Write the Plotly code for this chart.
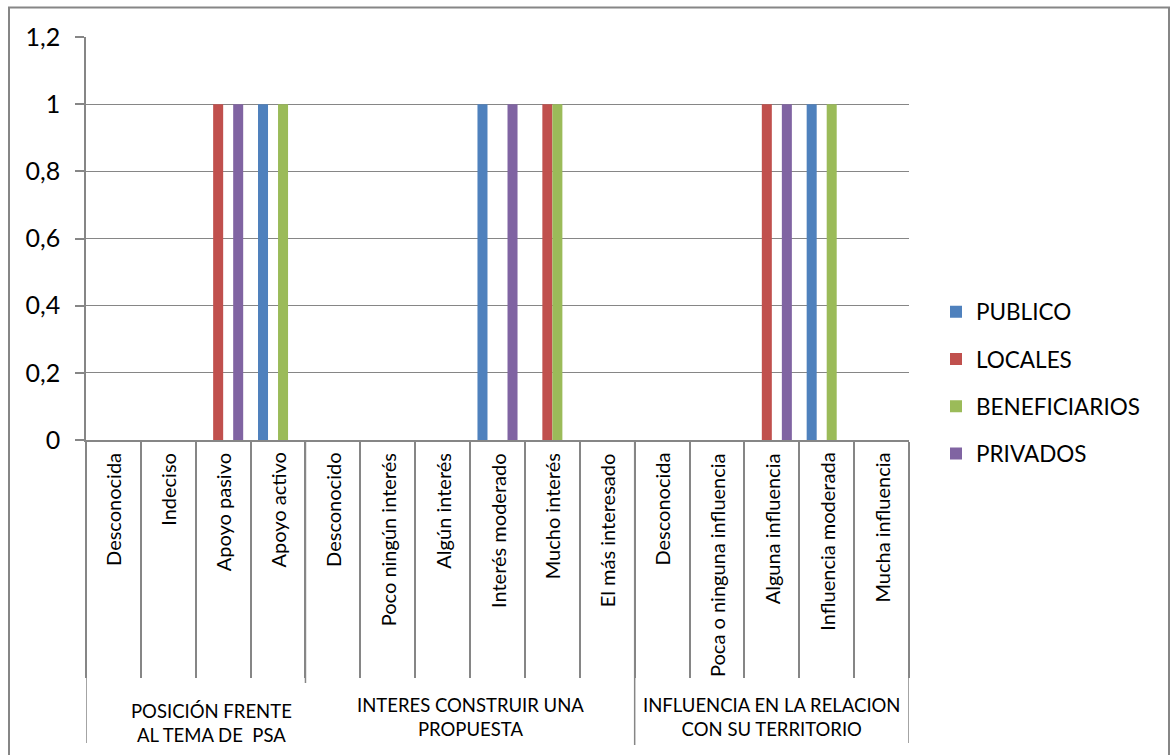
import plotly.graph_objects as go

# ---- data ----
categories = ["Desconocida", "Indeciso", "Apoyo pasivo", "Apoyo activo",
              "Desconocido", "Poco ningún interés", "Algún interés", "Interés moderado",
              "Mucho interés", "El más interesado",
              "Desconocida", "Poca o ninguna influencia", "Alguna influencia",
              "Influencia moderada", "Mucha influencia"]
groups = ["POSICIÓN FRENTE<br>AL TEMA DE\u00a0 PSA",
          "INTERES CONSTRUIR UNA<br>PROPUESTA",
          "INFLUENCIA EN LA RELACION<br>CON SU TERRITORIO"]
group_sizes = [4, 6, 5]

series_names = ["PUBLICO", "LOCALES", "BENEFICIARIOS", "PRIVADOS"]
publico       = [0, 0, 0, 1, 0, 0, 0, 1, 0, 0, 0, 0, 0, 1, 0]
locales       = [0, 0, 1, 0, 0, 0, 0, 0, 1, 0, 0, 0, 1, 0, 0]
beneficiarios = [0, 0, 0, 1, 0, 0, 0, 0, 1, 0, 0, 0, 0, 1, 0]
privados      = [0, 0, 1, 0, 0, 0, 0, 1, 0, 0, 0, 0, 1, 0, 0]
y_ticks = [0, 0.2, 0.4, 0.6, 0.8, 1, 1.2]

# ---- style ----
colors = ["#4F81BD", "#C0504D", "#9BBB59", "#8064A2"]
FONT = "Lato"
GRAY = "#868686"
W, H = 1170, 755
L, R, T, B = 86, 909, 37, 440   # plot area in px


def py(p):  # pixel y -> paper y
    return (B - p) / (B - T)


def px(p):  # pixel x -> paper x
    return (p - L) / (R - L)


xs = list(range(len(categories)))
fig = go.Figure()
for i, (name, vals) in enumerate(zip(series_names, [publico, locales, beneficiarios, privados])):
    fig.add_trace(go.Bar(x=xs, y=vals, name=name, marker_color=colors[i],
                         marker_line_width=0, legendgroup=name))

annotations = []
for i, c in enumerate(categories):
    annotations.append(dict(x=i, xref="x", y=py(451), yref="paper", text=c,
                            textangle=-90, xanchor="center", yanchor="top",
                            showarrow=False, font=dict(family=FONT, size=20, color="black")))

shapes = []
start = 0
group_shift = [0.28, 0, 0]
group_y = [723, 717, 717]
for gi, (g, n) in enumerate(zip(groups, group_sizes)):
    center = start + (n - 1) / 2 + group_shift[gi]
    annotations.append(dict(x=center, xref="x", y=py(group_y[gi]), yref="paper", text=g,
                            xanchor="center", yanchor="middle", showarrow=False,
                            font=dict(family=FONT, size=18.5, color="black")))
    start += n

n = len(categories)
# extended divider lines for outer edges and group boundaries
shapes.append(dict(type="line", xref="x", yref="paper", x0=-0.5, x1=-0.5,
                   y0=py(743), y1=py(440), line=dict(color=GRAY, width=1.5)))
shapes.append(dict(type="line", xref="x", yref="paper", x0=n - 0.5, x1=n - 0.5,
                   y0=py(743), y1=py(440), line=dict(color=GRAY, width=1.5)))
b1 = group_sizes[0] - 0.5
b2 = group_sizes[0] + group_sizes[1] - 0.5
shapes.append(dict(type="line", xref="x", yref="paper", x0=b1, x1=b1,
                   y0=py(683), y1=py(440), line=dict(color=GRAY, width=1.5)))
shapes.append(dict(type="line", xref="x", yref="paper", x0=b2, x1=b2,
                   y0=py(745), y1=py(440), line=dict(color=GRAY, width=1.5)))
# chart border
shapes.append(dict(type="rect", xref="paper", yref="paper", x0=px(9), x1=px(1169),
                   y0=py(765), y1=py(7.5), line=dict(color=GRAY, width=2),
                   fillcolor="rgba(0,0,0,0)"))

fig.update_layout(
    width=W, height=H,
    margin=dict(l=L, r=W - R, t=T, b=H - B, autoexpand=False),
    paper_bgcolor="white", plot_bgcolor="white",
    separators=", ",
    barmode="group", bargap=0.27, bargroupgap=0,
    font=dict(family=FONT, color="black"),
    xaxis=dict(range=[-0.5, n - 0.5], tickmode="array",
               tickvals=[i - 0.5 for i in range(n + 1)],
               showticklabels=False, ticks="outside", ticklen=236,
               tickcolor=GRAY, tickwidth=1.5, showgrid=False,
               showline=True, linecolor=GRAY, linewidth=1.5, zeroline=False),
    yaxis=dict(range=[0, 1.2], tickmode="array", tickvals=y_ticks,
               ticks="outside", ticklen=9, tickcolor=GRAY, tickwidth=1.5,
               showgrid=True, gridcolor=GRAY, gridwidth=1,
               showline=True, linecolor=GRAY, linewidth=1.5, zeroline=False,
               tickfont=dict(family=FONT, size=25, color="black"),
               ticklabelstandoff=10),
    legend=dict(x=px(936), xanchor="left", y=py(382.5), yanchor="middle",
                font=dict(family=FONT, size=22.5, color="black"),
                tracegroupgap=15, bgcolor="rgba(0,0,0,0)"),
    annotations=annotations, shapes=shapes,
)

fig.write_html("out.html")
